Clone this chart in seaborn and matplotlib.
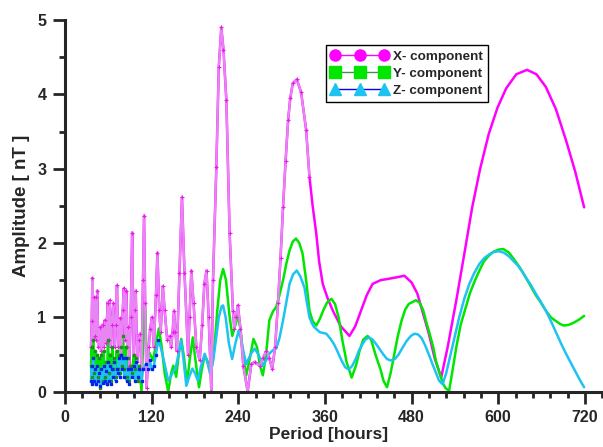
import matplotlib
matplotlib.use("Agg")
import matplotlib.pyplot as plt
from matplotlib.lines import Line2D
from matplotlib.ticker import MultipleLocator
import numpy as np
import pandas as pd
import seaborn as sns

# Readings taken off the spectrum (period in hours, amplitude in nT)
x_period = [36, 37, 38, 39, 40, 41, 42.5, 43.5, 44.7, 46, 48, 50, 52, 53.5, 55, 57, 59, 60.5,
            62, 63.5, 65, 67, 69, 70.5, 72, 74, 76, 78, 80, 81.5, 83, 85, 86.5, 87.5, 89, 91,
            93, 95, 97, 98, 100, 102, 104, 106, 108, 109.5, 111, 113, 116, 118, 120.5, 123,
            126, 128, 130.5, 132.5, 135.5, 138, 141.5, 145, 147, 149, 151, 153, 155, 158.5,
            162, 165.5, 170.5, 172.5, 175, 178, 182, 186.6, 190, 193, 196, 199, 202.7, 205,
            209.6, 213, 216.5, 219.5, 223.5, 228, 232.6, 234.5, 237, 239.5, 243, 247, 253,
            258, 262.6, 269.5, 274, 279, 283, 287, 291, 295, 298.5, 302, 305.5, 309, 312,
            315.5, 321, 327, 334, 338.6, 343, 348, 352, 357, 364, 371, 382, 394, 402, 410,
            418, 426, 437, 449, 460, 470, 480, 488, 496, 504, 512, 521, 530, 542, 553, 564,
            575, 587, 599, 611, 625, 640, 653, 666, 680, 694, 707, 719]
x_amp = [0.6, 0.95, 1.53, 0.7, 1.27, 0.75, 1.27, 0.7, 1.36, 0.6, 0.87, 0.55, 0.9, 0.6, 0.96,
         0.65, 1.2, 0.7, 1.23, 0.6, 0.9, 1.19, 0.6, 0.9, 1.43, 0.6, 0.99, 0.5, 1.1, 1.39, 0.7,
         1.36, 0.6, 0.87, 0.35, 1.0, 2.14, 0.5, 1.1, 1.36, 0.4, 0.7, 0.78, 0.3, 1.5, 2.37,
         1.2, 0.05, 0.6, 0.85, 1.0, 0.6, 1.3, 1.87, 1.1, 0.8, 1.42, 1.1, 0.7, 0.75, 0.6, 0.8,
         1.09, 0.8, 0.55, 1.6, 2.62, 1.6, 0.5, 1.0, 1.63, 1.2, 0.6, 0.42, 0.9, 1.45, 1.63,
         1.0, 0.0, 1.5, 3.02, 4.37, 4.9, 4.6, 3.92, 2.13, 1.09, 0.85, 1.0, 1.16, 0.85, 0.35,
         0.0, 0.37, 0.4, 0.35, 0.45, 0.55, 0.45, 0.31, 0.6, 1.19, 1.8, 2.48, 3.1, 3.65, 3.95,
         4.15, 4.2, 4.03, 3.52, 2.89, 2.5, 2.13, 1.75, 1.45, 1.25, 1.09, 0.88, 0.75, 0.88,
         1.09, 1.3, 1.45, 1.5, 1.52, 1.54, 1.56, 1.47, 1.32, 1.05, 0.78, 0.45, 0.19, 0.6,
         1.23, 1.85, 2.48, 3.0, 3.47, 3.82, 4.08, 4.27, 4.33, 4.27, 4.1, 3.8, 3.38, 2.95, 2.48]

y_period = [36, 37, 38, 39, 40, 41.5, 43, 44.5, 46, 47.5, 49, 50.5, 52, 53.5, 55, 56.5, 58,
            59.5, 61, 62.5, 64, 65.5, 67, 68.5, 70, 71.5, 73, 74.5, 76, 77.5, 79, 80.5, 82,
            84, 85.5, 87, 89, 91, 93, 95, 97, 99, 101, 103, 106, 108.5, 110.5, 113, 116.5,
            122, 126, 130, 134, 138, 143, 147, 150, 154, 157.5, 161, 165, 169, 173, 177, 181,
            185.6, 189.5, 193.5, 198, 202.7, 207, 211, 215, 219, 223, 227.5, 231.7, 235.5,
            239.5, 243, 247, 251, 256, 261, 266, 270, 274, 278.5, 283, 288, 292.6, 297, 302,
            306.5, 311, 315.5, 320, 324.5, 329, 334, 338.6, 343, 348, 353, 358, 363, 369,
            374, 379, 384, 390, 397, 403, 408, 413, 419, 424, 430, 437, 441, 446, 451, 456,
            461, 466, 471, 476, 486, 491, 496, 500, 505, 510, 514, 519, 523, 527, 532, 537,
            542, 548, 555, 561, 568, 574, 580, 587, 593, 600, 607, 615, 622, 630, 638, 645,
            652, 659, 666, 673, 680, 686, 691, 698, 705, 712, 719]
y_amp = [0.35, 0.6, 0.2, 0.69, 0.25, 0.55, 0.1, 0.5, 0.2, 0.45, 0.05, 0.5, 0.15, 0.55, 0.2,
         0.4, 0.1, 0.7, 0.25, 0.5, 0.15, 0.6, 0.3, 0.45, 0.2, 0.55, 0.3, 0.5, 0.25, 0.6, 0.35,
         0.75, 0.3, 0.6, 0.2, 0.45, 0.15, 0.35, 0.25, 0.5, 0.3, 0.45, 0.15, 0.35, 0.0, 0.75,
         1.16, 0.51, 0.53, 0.42, 0.65, 0.85, 0.6, 0.25, 0.0, 0.25, 0.35, 0.2, 0.5, 0.71,
         0.45, 0.12, 0.45, 0.73, 0.4, 0.06, 0.3, 0.49, 0.4, 0.28, 0.6, 1.1, 1.5, 1.65, 1.5,
         1.05, 0.75, 0.88, 1.02, 0.85, 0.45, 0.22, 0.45, 0.71, 0.6, 0.35, 0.22, 0.5, 0.96,
         1.08, 1.14, 1.3, 1.5, 1.72, 1.9, 2.02, 2.06, 2.0, 1.86, 1.5, 1.09, 0.95, 0.89, 0.98,
         1.1, 1.2, 1.25, 1.18, 1.0, 0.7, 0.4, 0.19, 0.35, 0.55, 0.7, 0.75, 0.7, 0.5, 0.3,
         0.15, 0.06, 0.25, 0.5, 0.75, 0.95, 1.1, 1.18, 1.23, 1.2, 1.1, 0.95, 0.78, 0.6, 0.4,
         0.25, 0.12, 0.05, 0.01, 0.3, 0.6, 0.9, 1.13, 1.33, 1.5, 1.63, 1.75, 1.83, 1.88,
         1.91, 1.92, 1.87, 1.78, 1.67, 1.54, 1.42, 1.3, 1.2, 1.09, 1.0, 0.95, 0.91, 0.89,
         0.9, 0.93, 0.97, 1.02]

z_period = [36, 37, 38, 39, 40, 41.5, 43, 44.5, 46, 47.5, 49, 50.5, 52, 53.5, 55, 56.5, 58,
            59.5, 61, 62.5, 64, 65.5, 67, 68.5, 70, 71.5, 73, 74.5, 76, 77.5, 79, 80.5, 82,
            84, 85.5, 87, 89, 91, 93, 95, 97, 99, 101, 103, 106, 108, 112, 114.5, 117.5, 120,
            123, 126, 129, 132.5, 136, 139.5, 143, 146.5, 150, 153, 157, 161, 164.5, 168, 172,
            176.4, 180, 184, 188.5, 193.5, 197, 201, 205, 209, 213, 217, 219, 222.5, 227,
            231.5, 236, 240.5, 244, 248, 251, 257, 262.6, 268, 274, 278.5, 283, 288, 292.6,
            297, 302, 306.5, 311, 316, 321, 326, 331.7, 335, 338.6, 342, 345, 353, 362, 367,
            372, 377, 383, 388, 393, 398, 403, 407, 412, 416, 421, 426, 431, 436, 441, 446,
            451, 457, 462, 468, 473, 479, 484, 489, 494, 499, 504, 509, 514, 518, 523, 528,
            534, 540, 546, 553, 560, 567, 574, 581, 588, 594, 601, 608, 615, 621, 627, 633,
            638, 645, 652, 659, 666, 673, 680, 687, 694, 700, 707, 713, 719]
z_amp = [0.15, 0.35, 0.1, 0.45, 0.15, 0.3, 0.1, 0.35, 0.15, 0.25, 0.08, 0.3, 0.12, 0.35,
         0.15, 0.28, 0.1, 0.4, 0.15, 0.35, 0.1, 0.3, 0.2, 0.4, 0.15, 0.3, 0.25, 0.45, 0.2,
         0.5, 0.3, 0.45, 0.2, 0.45, 0.15, 0.3, 0.1, 0.3, 0.2, 0.35, 0.15, 0.4, 0.2, 0.3,
         0.15, 0.3, 0.37, 0.3, 0.42, 0.3, 0.35, 0.5, 0.69, 0.6, 0.46, 0.3, 0.15, 0.2, 0.28,
         0.3, 0.5, 0.69, 0.4, 0.08, 0.2, 0.31, 0.25, 0.15, 0.35, 0.51, 0.4, 0.24, 0.4, 0.7,
         1.0, 1.15, 1.16, 1.0, 0.65, 0.44, 0.65, 0.82, 0.7, 0.5, 0.37, 0.5, 0.58, 0.5, 0.35,
         0.42, 0.51, 0.56, 0.58, 0.72, 0.96, 1.2, 1.45, 1.58, 1.63, 1.55, 1.4, 1.2, 1.0,
         0.92, 0.87, 0.8, 0.78, 0.72, 0.65, 0.55, 0.42, 0.33, 0.3, 0.35, 0.45, 0.55, 0.64,
         0.7, 0.73, 0.7, 0.64, 0.57, 0.5, 0.44, 0.42, 0.44, 0.5, 0.6, 0.68, 0.75, 0.78, 0.77,
         0.72, 0.62, 0.5, 0.37, 0.25, 0.15, 0.1, 0.25, 0.5, 0.75, 1.0, 1.25, 1.45, 1.6, 1.72,
         1.8, 1.85, 1.88, 1.89, 1.87, 1.82, 1.76, 1.7, 1.62, 1.54, 1.44, 1.32, 1.21, 1.09,
         0.95, 0.8, 0.65, 0.51, 0.4, 0.27, 0.16, 0.06]

labels = ["X- component", "Y- component", "Z- component"]
line_colors = ["#ff00ff", "#00e600", "#1ec3f2"]

sns.set_style("ticks")
plt.rcParams["font.family"] = ["Liberation Sans", "DejaVu Sans"]
plt.rcParams["font.weight"] = "bold"

df = pd.concat([
    pd.DataFrame({"period": x_period, "amp": x_amp, "comp": labels[0]}),
    pd.DataFrame({"period": y_period, "amp": y_amp, "comp": labels[1]}),
    pd.DataFrame({"period": z_period, "amp": z_amp, "comp": labels[2]}),
])

fig = plt.figure(figsize=(6.03, 4.47), dpi=100)
ax = fig.add_axes([0.1078, 0.1237, 0.892, 0.8315])

sns.lineplot(data=df, x="period", y="amp", hue="comp", palette=dict(zip(labels, line_colors)),
             estimator=None, sort=False, lw=1.8, legend=False, ax=ax)

# the short-period part of X is drawn lighter, with its sample points marked
xd = df[(df.comp == labels[0]) & (df.period < 340)]
ax.plot(xd.period, xd.amp, color="#e884f4", lw=1.6, zorder=2.1)
ax.plot(xd.period, xd.amp, ls="none", marker="+", ms=3, mew=0.8, color="#e81ee8", zorder=2.2)
yd = df[(df.comp == labels[1]) & (df.period < 105)]
ax.plot(yd.period, yd.amp, ls="none", marker="s", ms=2, color="#1f8f1f", zorder=2.3)
zd = df[(df.comp == labels[2]) & (df.period < 130)]
ax.plot(zd.period, zd.amp, ls="none", marker="s", ms=2, color="#0022ee", zorder=2.4)

ax.set_xlim(0, 745)
ax.set_ylim(0, 5)
ax.xaxis.set_major_locator(MultipleLocator(120))
ax.xaxis.set_minor_locator(MultipleLocator(24))
ax.yaxis.set_major_locator(MultipleLocator(1))
ax.yaxis.set_minor_locator(MultipleLocator(0.5))
ax.tick_params(which="major", length=8.5, width=2, direction="out", labelsize=11.5, pad=5)
ax.tick_params(which="minor", length=4.5, width=2, direction="out")
for lab in ax.get_xticklabels() + ax.get_yticklabels():
    lab.set_fontweight("bold")

for side in ["top", "right"]:
    ax.spines[side].set_visible(False)
for side in ["left", "bottom"]:
    ax.spines[side].set_linewidth(2.2)

ax.set_xlabel("Period [hours]", fontsize=12.5, fontweight="bold")
ax.set_ylabel("Amplitude [ nT ]", fontsize=13.5, fontweight="bold")
ax.xaxis.set_label_coords(0.49, -0.096)
ax.yaxis.set_label_coords(-0.066, 0.5)

handles = [
    Line2D([], [], color="#ff00ff", lw=1, marker="o", ms=8, mfc="#ff00ff", mec="#ff00ff"),
    Line2D([], [], color="#3a9a3a", lw=1, marker="s", ms=8, mfc="#00e600", mec="#00e600"),
    Line2D([], [], color="#0000ff", lw=1, marker="^", ms=8, mfc="#1ec3f2", mec="#1ec3f2"),
]
leg = ax.legend(handles, labels, loc="upper left", bbox_to_anchor=(0.485, 0.933),
                borderaxespad=0, numpoints=3, handlelength=4.2, handletextpad=0.4,
                labelspacing=0.35, borderpad=0.4, fancybox=False, framealpha=1,
                edgecolor="black", prop={"size": 9.7, "weight": "bold"})
leg.get_frame().set_linewidth(1)

fig.savefig("out.png", dpi=100)
